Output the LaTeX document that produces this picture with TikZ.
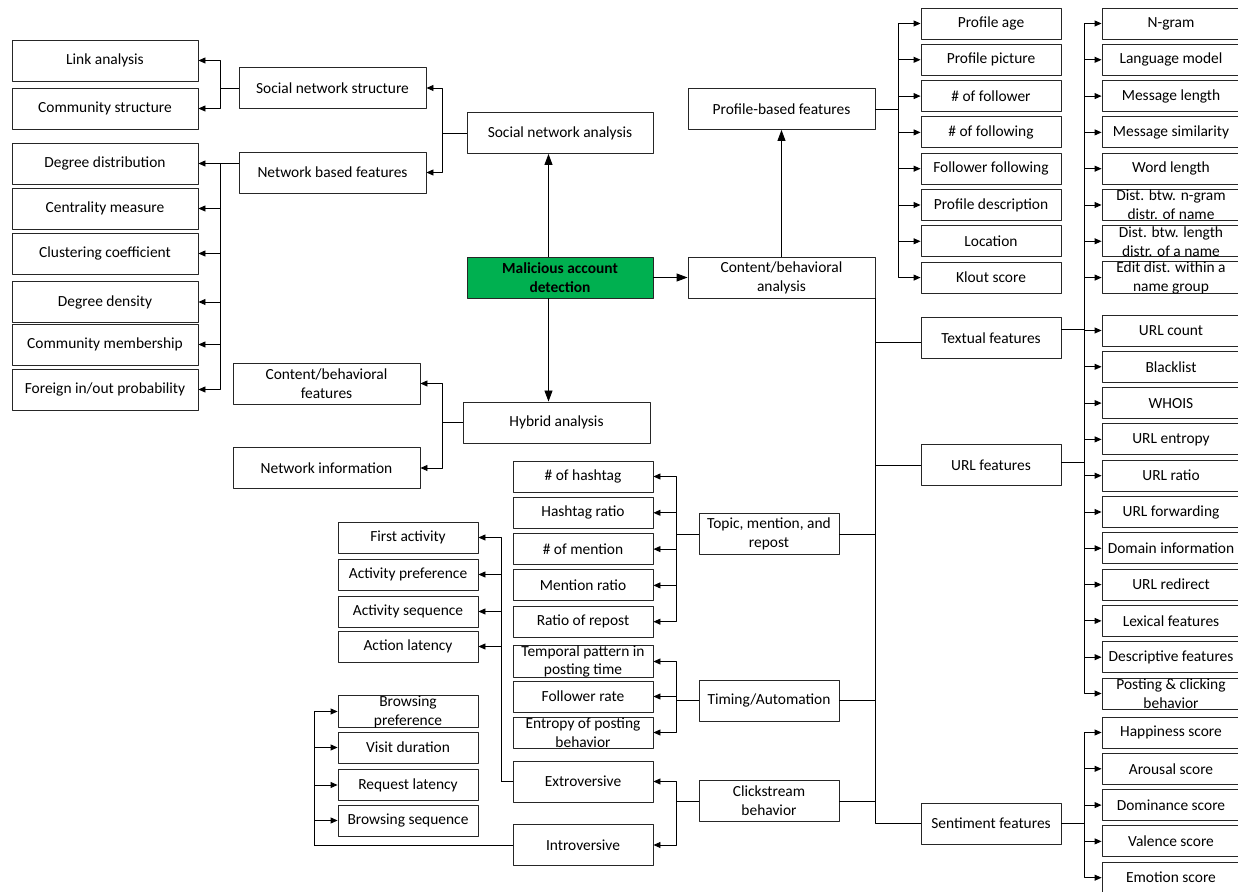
\documentclass[tikz,border=0pt]{standalone}
\usepackage{fontspec}
\setmainfont{Carlito}
\usetikzlibrary{arrows.meta}
\definecolor{madgreen}{HTML}{00B050}
\tikzset{
  box/.style={draw=black!85,line width=0.9bp,inner sep=0pt,align=center,
    font=\fontsize{15.5}{19}\selectfont,minimum height=31bp},
  bigbox/.style={box,minimum height=41bp},
  big/.style={->,>={Triangle[length=11bp,width=8bp]}},
}
\begin{document}
\begin{tikzpicture}[>={Triangle[length=7bp,width=6bp]},line join=bevel,line width=0.9bp,]
\useasboundingbox (0bp,0bp) rectangle (1238bp,892bp);
%%
\node (node_mad) at (560bp,614.5bp) [bigbox,fill=madgreen,minimum width=186bp,font=\fontsize{15.5}{19}\selectfont\bfseries] {Malicious account\\detection};
  \node (node_sna) at (560bp,759bp) [bigbox,minimum width=186bp] {Social network analysis};
  \node (node_cba) at (781.5bp,614.5bp) [bigbox,minimum width=187bp] {Content/behavioral\\analysis};
  \node (node_hyb) at (556.5bp,469.5bp) [bigbox,minimum width=187bp] {Hybrid analysis};
  \node (node_pbf) at (781.5bp,783bp) [bigbox,minimum width=187bp] {Profile-based features};
%
  \node (node_sns) at (332.5bp,804bp) [bigbox,minimum width=187bp] {Social network structure};
  \node (node_nbf) at (332.5bp,719.5bp) [bigbox,minimum width=187bp] {Network based features};
  \node (node_la) at (105bp,831.5bp) [bigbox,minimum width=186bp] {Link analysis};
  \node (node_cs) at (105bp,783.5bp) [bigbox,minimum width=186bp] {Community structure};
  \node (node_dd) at (105bp,728.5bp) [bigbox,minimum width=186bp] {Degree distribution};
  \node (node_cm) at (105bp,683.5bp) [bigbox,minimum width=186bp] {Centrality measure};
  \node (node_cc) at (105bp,638.5bp) [bigbox,minimum width=186bp] {Clustering coefficient};
  \node (node_dde) at (105bp,590bp) [bigbox,minimum width=186bp] {Degree density};
  \node (node_cmb) at (105bp,547.5bp) [bigbox,minimum width=186bp] {Community membership};
  \node (node_fio) at (105bp,502.5bp) [bigbox,minimum width=186bp] {Foreign in/out probability};
%
  \node (node_cbf) at (326.5bp,508.5bp) [bigbox,minimum width=187bp] {Content/behavioral\\features};
  \node (node_ni) at (326.5bp,424bp) [bigbox,minimum width=187bp] {Network information};
%
  \node (node_pa) at (991bp,868.5bp) [box,minimum width=140bp] {Profile age};
  \node (node_pp) at (991bp,832.2bp) [box,minimum width=140bp] {Profile picture};
  \node (node_nfr) at (991bp,795.9bp) [box,minimum width=140bp] {\# of follower};
  \node (node_nfg) at (991bp,759.6bp) [box,minimum width=140bp] {\# of following};
  \node (node_ff) at (991bp,723.3bp) [box,minimum width=140bp] {Follower following};
  \node (node_pd) at (991bp,687bp) [box,minimum width=140bp] {Profile description};
  \node (node_loc) at (991bp,650.7bp) [box,minimum width=140bp] {Location};
  \node (node_ks) at (991bp,614.4bp) [box,minimum width=140bp] {Klout score};
%
  \node (node_tf) at (991bp,554bp) [bigbox,minimum width=140bp] {Textual features};
  \node (node_url) at (991bp,427bp) [bigbox,minimum width=140bp] {URL features};
  \node (node_sent) at (991bp,68.5bp) [bigbox,minimum width=140bp] {Sentiment features};
%
  \node (node_ng) at (1171bp,868.5bp) [box,minimum width=138bp] {N-gram};
  \node (node_lm) at (1171bp,832.2bp) [box,minimum width=138bp] {Language model};
  \node (node_ml) at (1171bp,795.9bp) [box,minimum width=138bp] {Message length};
  \node (node_ms) at (1171bp,759.6bp) [box,minimum width=138bp] {Message similarity};
  \node (node_wl) at (1171bp,723.3bp) [box,minimum width=138bp] {Word length};
  \node (node_dng) at (1171bp,687bp) [box,minimum width=138bp] {Dist. btw. n-gram\\distr. of name};
  \node (node_dln) at (1171bp,650.7bp) [box,minimum width=138bp] {Dist. btw. length\\distr. of a name};
  \node (node_edn) at (1171bp,614.4bp) [box,minimum width=138bp] {Edit dist. within a\\name group};
%
  \node (node_uc) at (1171bp,561.5bp) [box,minimum width=138bp] {URL count};
  \node (node_bl) at (1171bp,525.2bp) [box,minimum width=138bp] {Blacklist};
  \node (node_wh) at (1171bp,488.9bp) [box,minimum width=138bp] {WHOIS};
  \node (node_ue) at (1171bp,452.6bp) [box,minimum width=138bp] {URL entropy};
  \node (node_ur) at (1171bp,416.3bp) [box,minimum width=138bp] {URL ratio};
  \node (node_uf) at (1171bp,380bp) [box,minimum width=138bp] {URL forwarding};
  \node (node_di) at (1171bp,343.7bp) [box,minimum width=138bp] {Domain information};
  \node (node_urd) at (1171bp,307.4bp) [box,minimum width=138bp] {URL redirect};
  \node (node_lf) at (1171bp,271.1bp) [box,minimum width=138bp] {Lexical features};
  \node (node_df) at (1171bp,234.8bp) [box,minimum width=138bp] {Descriptive features};
  \node (node_pc) at (1171bp,198.5bp) [box,minimum width=138bp] {Posting \& clicking\\behavior};
%
  \node (node_hs) at (1171bp,159.5bp) [box,minimum width=138bp] {Happiness score};
  \node (node_ars) at (1171bp,123.2bp) [box,minimum width=138bp] {Arousal score};
  \node (node_ds) at (1171bp,86.9bp) [box,minimum width=138bp] {Dominance score};
  \node (node_vs) at (1171bp,50.6bp) [box,minimum width=138bp] {Valence score};
  \node (node_es) at (1171bp,14.3bp) [box,minimum width=138bp] {Emotion score};
%
  \node (node_topic) at (769bp,358bp) [bigbox,minimum width=140bp] {Topic, mention, and\\repost};
  \node (node_ta) at (769bp,191.5bp) [bigbox,minimum width=140bp] {Timing/Automation};
  \node (node_click) at (769bp,91bp) [bigbox,minimum width=140bp] {Clickstream\\behavior};
%
  \node (node_nh) at (583bp,415.5bp) [box,minimum width=140bp] {\# of hashtag};
  \node (node_hr) at (583bp,379.2bp) [box,minimum width=140bp] {Hashtag ratio};
  \node (node_nm) at (583bp,342.9bp) [box,minimum width=140bp] {\# of mention};
  \node (node_mr) at (583bp,306.6bp) [box,minimum width=140bp] {Mention ratio};
  \node (node_rr) at (583bp,270.3bp) [box,minimum width=140bp] {Ratio of repost};
  \node (node_tp) at (583bp,230.5bp) [box,minimum width=140bp] {Temporal pattern in\\posting time};
  \node (node_fr) at (583bp,195.5bp) [box,minimum width=140bp] {Follower rate};
  \node (node_ep) at (583bp,159.5bp) [box,minimum width=140bp] {Entropy of posting\\behavior};
  \node (node_ext) at (583bp,110.5bp) [bigbox,minimum width=140bp] {Extroversive};
  \node (node_int) at (583bp,47bp) [bigbox,minimum width=140bp] {Introversive};
%
  \node (node_fa) at (408bp,354.5bp) [box,minimum width=140bp] {First activity};
  \node (node_ap) at (408bp,317.5bp) [box,minimum width=140bp] {Activity preference};
  \node (node_asq) at (408bp,280.5bp) [box,minimum width=140bp] {Activity sequence};
  \node (node_al) at (408bp,245.5bp) [box,minimum width=140bp] {Action latency};
  \node (node_bp) at (408bp,180.5bp) [box,minimum width=140bp] {Browsing\\preference};
  \node (node_vd) at (408bp,144.5bp) [box,minimum width=140bp] {Visit duration};
  \node (node_rl) at (408bp,107bp) [box,minimum width=140bp] {Request latency};
  \node (node_bs) at (408bp,71.5bp) [box,minimum width=140bp] {Browsing sequence};
%%
  \draw [black,big] ([xshift=-11.5bp]node_mad.north) -- ([xshift=-11.5bp]node_sna.south);
  \draw [black,big] (node_mad.east) -- (node_cba.west);
  \draw [black,big] ([xshift=-11.5bp]node_mad.south) -- ([xshift=-8bp]node_hyb.north);
  \draw [black,big] (node_cba.north) -- (node_pbf.south);
%
  \draw [black,->] (node_sna.west) -- ++(-24bp,0) |- (node_sns.east);
  \draw [black,->] (node_sna.west) -- ++(-24bp,0) |- (node_nbf.east);
  \draw [black,->] (node_sns.west) -- ++(-18bp,0) |- (node_la.east);
  \draw [black,->] (node_sns.west) -- ++(-18bp,0) |- (node_cs.east);
  \draw [black,->] ([yshift=9bp]node_nbf.west) -- (node_dd.east);
  \draw [black,->] ([yshift=9bp]node_nbf.west) -- ++(-18bp,0) |- (node_cm.east);
  \draw [black,->] ([yshift=9bp]node_nbf.west) -- ++(-18bp,0) |- (node_cc.east);
  \draw [black,->] ([yshift=9bp]node_nbf.west) -- ++(-18bp,0) |- (node_dde.east);
  \draw [black,->] ([yshift=9bp]node_nbf.west) -- ++(-18bp,0) |- (node_cmb.east);
  \draw [black,->] ([yshift=9bp]node_nbf.west) -- ++(-18bp,0) |- (node_fio.east);
  \draw [black,->] (node_hyb.west) -- ++(-20bp,0) |- (node_cbf.east);
  \draw [black,->] (node_hyb.west) -- ++(-20bp,0) |- (node_ni.east);
%
  \draw [black,->] (node_pbf.east) -- ++(23bp,0) |- (node_pa.west);
  \draw [black,->] (node_pbf.east) -- ++(23bp,0) |- (node_pp.west);
  \draw [black,->] (node_pbf.east) -- ++(23bp,0) |- (node_nfr.west);
  \draw [black,->] (node_pbf.east) -- ++(23bp,0) |- (node_nfg.west);
  \draw [black,->] (node_pbf.east) -- ++(23bp,0) |- (node_ff.west);
  \draw [black,->] (node_pbf.east) -- ++(23bp,0) |- (node_pd.west);
  \draw [black,->] (node_pbf.east) -- ++(23bp,0) |- (node_loc.west);
  \draw [black,->] (node_pbf.east) -- ++(23bp,0) |- (node_ks.west);
%
  \draw [black] (node_cba.south east) |- (node_sent.west);
  \draw [black] ([yshift=-4bp]node_tf.west) -- ([yshift=-4bp]node_tf.west -| node_cba.east);
  \draw [black] (node_url.west) -- (node_url.west -| node_cba.east);
  \draw [black] (node_topic.east) -- (node_topic.east -| node_cba.east);
  \draw [black] (node_ta.east) -- (node_ta.east -| node_cba.east);
  \draw [black] (node_click.east) -- (node_click.east -| node_cba.east);
%
  \draw [black,->] ([yshift=9bp]node_tf.east) -- ++(23bp,0) |- (node_ng.west);
  \draw [black,->] ([yshift=9bp]node_tf.east) -- ++(23bp,0) |- (node_lm.west);
  \draw [black,->] ([yshift=9bp]node_tf.east) -- ++(23bp,0) |- (node_ml.west);
  \draw [black,->] ([yshift=9bp]node_tf.east) -- ++(23bp,0) |- (node_ms.west);
  \draw [black,->] ([yshift=9bp]node_tf.east) -- ++(23bp,0) |- (node_wl.west);
  \draw [black,->] ([yshift=9bp]node_tf.east) -- ++(23bp,0) |- (node_dng.west);
  \draw [black,->] ([yshift=9bp]node_tf.east) -- ++(23bp,0) |- (node_dln.west);
  \draw [black,->] ([yshift=9bp]node_tf.east) -- ++(23bp,0) |- (node_edn.west);
%
  \draw [black,->] ([yshift=3bp]node_url.east) -- ++(23bp,0) |- (node_uc.west);
  \draw [black,->] ([yshift=3bp]node_url.east) -- ++(23bp,0) |- (node_bl.west);
  \draw [black,->] ([yshift=3bp]node_url.east) -- ++(23bp,0) |- (node_wh.west);
  \draw [black,->] ([yshift=3bp]node_url.east) -- ++(23bp,0) |- (node_ue.west);
  \draw [black,->] ([yshift=3bp]node_url.east) -- ++(23bp,0) |- (node_ur.west);
  \draw [black,->] ([yshift=3bp]node_url.east) -- ++(23bp,0) |- (node_uf.west);
  \draw [black,->] ([yshift=3bp]node_url.east) -- ++(23bp,0) |- (node_di.west);
  \draw [black,->] ([yshift=3bp]node_url.east) -- ++(23bp,0) |- (node_urd.west);
  \draw [black,->] ([yshift=3bp]node_url.east) -- ++(23bp,0) |- (node_lf.west);
  \draw [black,->] ([yshift=3bp]node_url.east) -- ++(23bp,0) |- (node_df.west);
  \draw [black,->] ([yshift=3bp]node_url.east) -- ++(23bp,0) |- (node_pc.west);
%
  \draw [black,->] (node_sent.east) -- ++(23bp,0) |- (node_hs.west);
  \draw [black,->] (node_sent.east) -- ++(23bp,0) |- (node_ars.west);
  \draw [black,->] (node_sent.east) -- ++(23bp,0) |- (node_ds.west);
  \draw [black,->] (node_sent.east) -- ++(23bp,0) |- (node_vs.west);
  \draw [black,->] (node_sent.east) -- ++(23bp,0) |- (node_es.west);
%
  \draw [black,->] (node_topic.west) -- ++(-22bp,0) |- (node_nh.east);
  \draw [black,->] (node_topic.west) -- ++(-22bp,0) |- (node_hr.east);
  \draw [black,->] (node_topic.west) -- ++(-22bp,0) |- (node_nm.east);
  \draw [black,->] (node_topic.west) -- ++(-22bp,0) |- (node_mr.east);
  \draw [black,->] (node_topic.west) -- ++(-22bp,0) |- (node_rr.east);
  \draw [black,->] (node_ta.west) -- ++(-22bp,0) |- (node_tp.east);
  \draw [black,->] (node_ta.west) -- ++(-22bp,0) |- (node_fr.east);
  \draw [black,->] (node_ta.west) -- ++(-22bp,0) |- (node_ep.east);
  \draw [black,->] (node_click.west) -- ++(-22bp,0) |- (node_ext.east);
  \draw [black,->] (node_click.west) -- ++(-22bp,0) |- (node_int.east);
%
  \draw [black,->] (node_ext.west) -- ++(-11bp,0) |- (node_fa.east);
  \draw [black,->] (node_ext.west) -- ++(-11bp,0) |- (node_ap.east);
  \draw [black,->] (node_ext.west) -- ++(-11bp,0) |- (node_asq.east);
  \draw [black,->] (node_ext.west) -- ++(-11bp,0) |- (node_al.east);
  \draw [black,->] (node_int.west) -- ++(-198bp,0) |- (node_bp.west);
  \draw [black,->] (node_int.west) -- ++(-198bp,0) |- (node_vd.west);
  \draw [black,->] (node_int.west) -- ++(-198bp,0) |- (node_rl.west);
  \draw [black,->] (node_int.west) -- ++(-198bp,0) |- (node_bs.west);
%
\end{tikzpicture}
\end{document}
